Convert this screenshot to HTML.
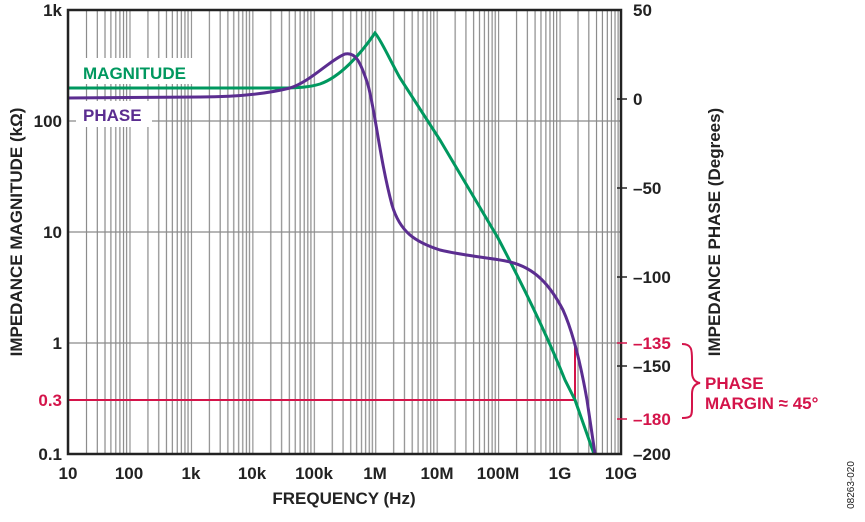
<!DOCTYPE html>
<html><head><meta charset="utf-8"><style>
body{margin:0;background:#fff;}
svg{display:block;font-family:"Liberation Sans",Arial,sans-serif;font-weight:bold;}
</style></head><body>
<svg width="865" height="522" viewBox="0 0 865 522" xmlns="http://www.w3.org/2000/svg">
<defs>
<pattern id="dec" patternUnits="userSpaceOnUse" x="68" y="0" width="61.44" height="522">
<g stroke="#8a8a8a" stroke-width="1.2">
<line x1="0.5" y1="0" x2="0.5" y2="522"/>
<line x1="18.5" y1="0" x2="18.5" y2="522"/>
<line x1="29.3" y1="0" x2="29.3" y2="522"/>
<line x1="37" y1="0" x2="37" y2="522"/>
<line x1="42.9" y1="0" x2="42.9" y2="522"/>
<line x1="47.8" y1="0" x2="47.8" y2="522"/>
<line x1="51.9" y1="0" x2="51.9" y2="522"/>
<line x1="55.5" y1="0" x2="55.5" y2="522"/>
<line x1="58.6" y1="0" x2="58.6" y2="522"/>
</g>
</pattern>
</defs>
<rect x="68" y="10" width="553" height="444" fill="url(#dec)"/>
<g stroke="#8a8a8a" stroke-width="1.2">
<line x1="68" y1="121" x2="621" y2="121"/><line x1="68" y1="232" x2="621" y2="232"/><line x1="68" y1="343" x2="621" y2="343"/>
</g>
<rect x="76" y="58" width="124" height="26" fill="#fff"/>
<rect x="76" y="101" width="76" height="26" fill="#fff"/>
<text x="83" y="79" fill="#00985f" font-size="17">MAGNITUDE</text>
<text x="83" y="121" fill="#5b2d90" font-size="17">PHASE</text>
<line x1="68" y1="400" x2="575" y2="400" stroke="#d4144a" stroke-width="2"/>
<line x1="575" y1="400" x2="575" y2="347" stroke="#d4144a" stroke-width="2"/>
<path d="M68,88 L280,88 C300,88 310,87 320,84 C340,77 360,55 375,33 C380,38 390,60 400,78 L440,140 L498,238 C520,280 545,330 565,380 L575,400 L594,454" fill="none" stroke="#00985f" stroke-width="3"/>
<path d="M68,98 L200,97 C240,97 270,93 290,88 C310,82 330,60 345,54 C355,52 360,60 368,85 C375,110 380,160 392,205 C400,232 415,242 440,250 C470,257 495,258 510,262 C535,268 550,285 563,310 C572,330 580,360 587,400 L595,454" fill="none" stroke="#5b2d90" stroke-width="3"/>
<rect x="68" y="10" width="553" height="444" fill="none" stroke="#222" stroke-width="2.5"/>
<g font-size="17" fill="#222" text-anchor="end">
<text x="62" y="16">1k</text><text x="62" y="127">100</text><text x="62" y="238">10</text><text x="62" y="349">1</text>
<text x="62" y="460">0.1</text>
</g>
<text x="62" y="406" font-size="17" fill="#d4144a" text-anchor="end">0.3</text>
<g font-size="17" fill="#222" text-anchor="middle">
<text x="68" y="479">10</text><text x="129" y="479">100</text><text x="191" y="479">1k</text><text x="252" y="479">10k</text><text x="314" y="479">100k</text><text x="375" y="479">1M</text><text x="437" y="479">10M</text><text x="498" y="479">100M</text><text x="560" y="479">1G</text><text x="621" y="479">10G</text>
</g>
<g stroke="#222" stroke-width="1.5"><line x1="617" y1="99" x2="627" y2="99"/><line x1="617" y1="188" x2="627" y2="188"/><line x1="617" y1="277" x2="627" y2="277"/><line x1="617" y1="366" x2="627" y2="366"/></g>
<g stroke="#d4144a" stroke-width="1.5"><line x1="617" y1="343" x2="627" y2="343"/><line x1="617" y1="419" x2="627" y2="419"/></g>
<g font-size="17" fill="#222">
<text x="633" y="16">50</text><text x="633" y="105">0</text><text x="633" y="194">–50</text><text x="633" y="283">–100</text><text x="633" y="372">–150</text><text x="633" y="460">–200</text>
</g>
<g font-size="17" fill="#d4144a">
<text x="633" y="349">–135</text><text x="633" y="425">–180</text>
<text x="705" y="389">PHASE</text><text x="705" y="409">MARGIN ≈ 45°</text>
</g>
<path d="M682,344 C692,344 692,350 692,360 L692,372 C692,378 694,382 700,383 C694,384 692,388 692,394 L692,406 C692,416 692,418 682,418" fill="none" stroke="#d4144a" stroke-width="2"/>
<text x="344" y="504" font-size="17" fill="#222" text-anchor="middle">FREQUENCY (Hz)</text>
<text transform="translate(22,232) rotate(-90)" font-size="17" fill="#222" text-anchor="middle">IMPEDANCE MAGNITUDE (kΩ)</text>
<text transform="translate(720,232) rotate(-90)" font-size="17" fill="#222" text-anchor="middle">IMPEDANCE PHASE (Degrees)</text>
<text transform="translate(854,485) rotate(-90)" font-size="10" font-weight="normal" fill="#222" text-anchor="middle">08263-020</text>
</svg>
</body></html>
